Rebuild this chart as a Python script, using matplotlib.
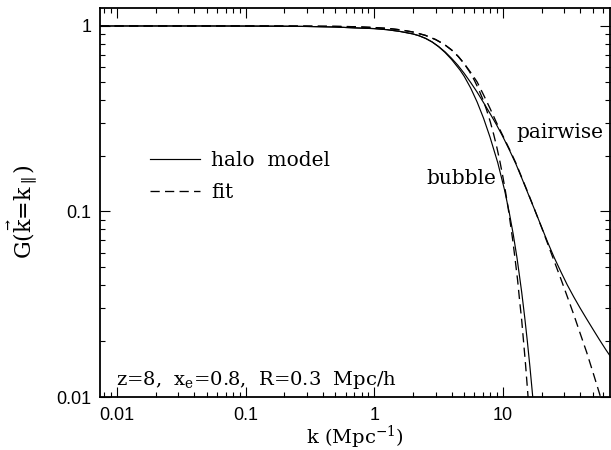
import matplotlib
matplotlib.use("Agg")
import matplotlib.pyplot as plt
from matplotlib.ticker import FixedLocator, FixedFormatter, LogLocator, NullFormatter

# ---- data ----
k_bubble_halo = [0.0074, 0.05, 0.1, 0.2, 0.3, 0.5, 0.7, 1.0, 1.26, 1.58, 2.0, 2.24, 2.51, 2.82,
                 3.16, 3.55, 3.98, 4.65, 5.01, 5.62, 6.31, 7.08, 7.94, 9.12, 10.3, 11.22, 12.05,
                 12.88, 14.0, 14.79, 15.49, 16.22, 16.98, 17.78]
G_bubble_halo = [1.0, 1.0, 0.999, 0.997, 0.994, 0.987, 0.977, 0.968, 0.955, 0.935, 0.906, 0.885, 0.857, 0.820,
                 0.774, 0.720, 0.662, 0.578, 0.535, 0.463, 0.389, 0.318, 0.252, 0.1835, 0.1308, 0.0984, 0.0750,
                 0.0562, 0.0368, 0.0268, 0.0200, 0.0146, 0.0104, 0.0072]

k_bubble_fit = [0.0074, 0.1, 0.3, 0.5, 0.7, 1.0, 1.3, 1.6, 2.0, 2.5, 3.0, 3.5, 4.0, 4.5, 5.0, 5.5,
                6.0, 6.5, 7.0, 7.5, 8.0, 8.5, 9.0, 9.5, 10.0, 10.5, 11.0, 11.5, 12.0, 12.5, 13.0,
                13.5, 14.0, 14.5, 15.0, 15.5, 16.0]
G_bubble_fit = [1.0, 1.0, 0.998, 0.995, 0.991, 0.981, 0.969, 0.953, 0.928, 0.890, 0.845, 0.796, 0.742, 0.685,
                0.627, 0.568, 0.510, 0.454, 0.401, 0.350, 0.303, 0.259, 0.220, 0.185, 0.154, 0.127, 0.104,
                0.084, 0.068, 0.054, 0.043, 0.033, 0.026, 0.0197, 0.0150, 0.0112, 0.0084]

k_pair_halo = [0.0074, 0.05, 0.1, 0.2, 0.3, 0.5, 0.7, 1.0, 1.26, 1.58, 2.0, 2.24, 2.51, 2.82, 3.16,
               3.55, 3.98, 4.47, 5.01, 5.62, 6.31, 7.08, 7.94, 8.91, 10.0, 11.2, 12.6, 14.1, 15.8,
               17.8, 20.0, 22.4, 25.1, 28.2, 31.6, 35.5, 39.8, 44.7, 50.1, 56.2, 63.1, 70.8]
G_pair_halo = [1.0, 1.0, 0.999, 0.997, 0.994, 0.987, 0.977, 0.968, 0.955, 0.935, 0.906, 0.885, 0.857, 0.820,
               0.776, 0.726, 0.671, 0.614, 0.555, 0.496, 0.440, 0.386, 0.338, 0.294, 0.253, 0.2156,
               0.181, 0.150, 0.1234, 0.1008, 0.0823, 0.0677, 0.0563, 0.0474, 0.0403, 0.0347, 0.0302,
               0.0264, 0.0232, 0.0204, 0.0180, 0.0160]

k_pair_fit = [0.0074, 0.1, 0.3, 0.5, 0.7, 1.0, 1.3, 1.6, 2.0, 2.5, 3.0, 3.5, 4.0, 4.5, 5.0,
              5.62, 6.31, 7.08, 7.94, 8.91, 10.0, 11.2, 12.6, 14.1, 15.8, 17.8, 20.0, 22.4, 25.1,
              28.2, 31.6, 35.5, 39.8, 44.7, 50.1, 56.2, 63.1]
G_pair_fit = [1.0, 1.0, 0.998, 0.995, 0.991, 0.981, 0.969, 0.953, 0.928, 0.890, 0.845, 0.796, 0.742, 0.685,
              0.627, 0.562, 0.499, 0.425, 0.360, 0.302, 0.256, 0.218, 0.183, 0.151, 0.1245, 0.1008,
              0.0820, 0.0665, 0.0538, 0.0434, 0.0349, 0.0279, 0.0221, 0.0175, 0.0136, 0.0105, 0.0080]

xtick_vals = [0.01, 0.1, 1, 10]
xtick_labels = ["0.01", "0.1", "1", "10"]
ytick_vals = [0.01, 0.1, 1]
ytick_labels = ["0.01", "0.1", "1"]

legend_labels = ["halo  model", "fit"]
curve_labels = ["bubble", "pairwise"]
annotation = r"z=8,  x$_{\rm e}$=0.8,  R=0.3  Mpc/h"
xlabel = r"k (Mpc$^{-1}$)"
ylabel = r"G($\vec{\rm k}$=k$_{\parallel}$)"

# ---- style ----
plt.rcParams["font.family"] = ["DejaVu Serif"]
plt.rcParams["mathtext.fontset"] = "dejavuserif"

fig = plt.figure(figsize=(6.11, 4.5), dpi=100)
ax = fig.add_axes([100 / 611, 53 / 450, 510 / 611, 389 / 450])

solid_kw = dict(color="black", lw=0.85, ls="-")
dash_kw = dict(color="black", lw=0.95, ls=(0, (7, 4)))

h1, = ax.plot(k_bubble_halo, G_bubble_halo, label=legend_labels[0], **solid_kw)
h2, = ax.plot(k_bubble_fit, G_bubble_fit, label=legend_labels[1], **dash_kw)
ax.plot(k_pair_halo, G_pair_halo, **solid_kw)
ax.plot(k_pair_fit, G_pair_fit, **dash_kw)

ax.set_xscale("log")
ax.set_yscale("log")
ax.set_xlim(0.0074, 68)
ax.set_ylim(0.01, 1.25)

ax.xaxis.set_major_locator(FixedLocator(xtick_vals))
ax.xaxis.set_major_formatter(FixedFormatter(xtick_labels))
ax.yaxis.set_major_locator(FixedLocator(ytick_vals))
ax.yaxis.set_major_formatter(FixedFormatter(ytick_labels))
for axis in (ax.xaxis, ax.yaxis):
    axis.set_minor_locator(LogLocator(base=10, subs=range(2, 10), numticks=20))
    axis.set_minor_formatter(NullFormatter())

ax.tick_params(which="both", direction="in", top=True, right=True, width=0.8)
ax.tick_params(which="major", length=7.5)
ax.tick_params(which="minor", length=3.8)
ax.tick_params(axis="x", which="major", pad=7)
ax.tick_params(axis="y", which="major", pad=6)
for lab in ax.get_xticklabels() + ax.get_yticklabels():
    lab.set_fontfamily("Liberation Sans")
    lab.set_fontsize(13)
for sp in ax.spines.values():
    sp.set_linewidth(1.3)

ax.set_xlabel(xlabel, fontsize=14)
ax.xaxis.set_label_coords(0.5, -0.105)
ax.xaxis.label.set_va("center")
ax.set_ylabel(ylabel, fontsize=16)
ax.yaxis.set_label_coords(-0.153, 0.476)
ax.yaxis.label.set_va("center")

ax.text(8.9, 0.141, curve_labels[0], fontsize=14.5, ha="right", va="baseline")
ax.text(60, 0.25, curve_labels[1], fontsize=14.5, ha="right", va="baseline")
ax.text(0.031, 0.031, annotation, fontsize=14, ha="left", va="baseline", transform=ax.transAxes)

ax.legend(handles=[h1, h2], loc="upper left", bbox_to_anchor=(0.098, 0.632), frameon=False,
          fontsize=14.5, handlelength=2.5, handletextpad=0.55, labelspacing=0.62, borderpad=0,
          borderaxespad=0)

fig.savefig("out.png", dpi=100)
